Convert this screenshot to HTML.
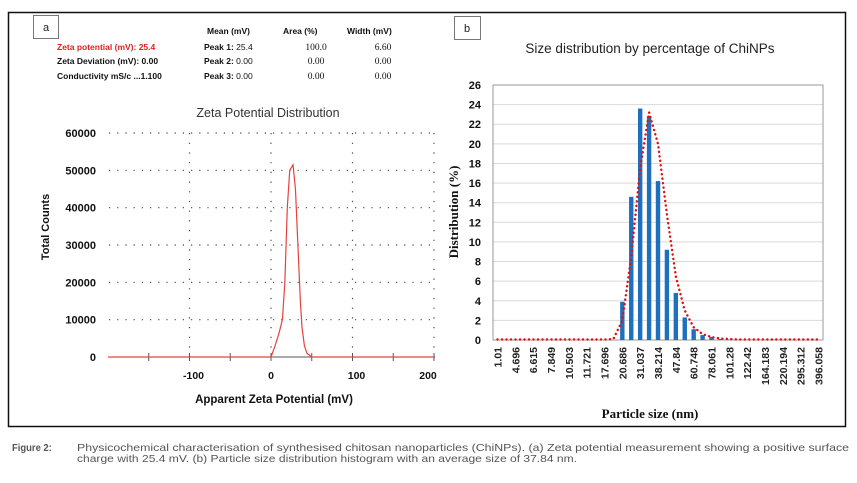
<!DOCTYPE html>
<html><head><meta charset="utf-8">
<style>
body{margin:0;background:#fff;}
svg{display:block;font-family:"Liberation Sans",sans-serif;}
</style></head>
<body>
<svg width="857" height="483" viewBox="0 0 857 483">
<rect x="8.5" y="12.5" width="837" height="414" fill="none" stroke="#111" stroke-width="1.5"/>
<g id="panelA">
<rect x="33.5" y="15.5" width="25" height="23" fill="#fff" stroke="#777"/>
<text x="46" y="31" font-size="11" text-anchor="middle" fill="#222">a</text>
<g font-size="8.5" font-weight="bold" fill="#111">
<text x="57" y="50" fill="#e02020">Zeta potential (mV): 25.4</text>
<text x="57" y="64">Zeta Deviation (mV): 0.00</text>
<text x="57" y="79">Conductivity mS/c ...1.100</text>
<text x="207" y="34">Mean (mV)</text>
<text x="283" y="34">Area (%)</text>
<text x="347" y="34">Width (mV)</text>
<text x="204" y="50">Peak 1: <tspan font-weight="normal">25.4</tspan></text>
<text x="204" y="64">Peak 2: <tspan font-weight="normal"> 0.00</tspan></text>
<text x="204" y="79">Peak 3: <tspan font-weight="normal"> 0.00</tspan></text>
<g font-weight="normal" text-anchor="middle" font-family="Liberation Serif,serif" font-size="9.5">
<text x="316" y="50">100.0</text><text x="316" y="64">0.00</text><text x="316" y="79">0.00</text>
<text x="383" y="50">6.60</text><text x="383" y="64">0.00</text><text x="383" y="79">0.00</text>
</g></g>
<text x="268" y="117" font-size="12.5" text-anchor="middle" fill="#333">Zeta Potential Distribution</text>
<g id="aGrid"></g>
<g id="aAxis"></g>
<text transform="translate(49,227) rotate(-90)" font-size="11" font-weight="bold" text-anchor="middle" fill="#111">Total Counts</text>
<text x="274" y="403" font-size="11.5" font-weight="bold" text-anchor="middle" fill="#111">Apparent Zeta Potential (mV)</text>
</g>
<g id="panelB">
<rect x="454.5" y="16.5" width="26" height="23" fill="#fff" stroke="#777"/>
<text x="467" y="32" font-size="11" text-anchor="middle" fill="#222">b</text>
<text x="650" y="53" font-size="13.5" text-anchor="middle" fill="#222">Size distribution by percentage  of ChiNPs</text>
<g id="bGrid"></g>
<g id="bBars"></g>
<g id="bCurve"></g>
<g id="bAxis"></g>
<text transform="translate(458,212) rotate(-90)" font-size="13" font-weight="bold" text-anchor="middle" font-family="Liberation Serif,serif" fill="#111">Distribution (%)</text>
<text x="650" y="418" font-size="13" font-weight="bold" text-anchor="middle" font-family="Liberation Serif,serif" fill="#111">Particle size (nm)</text>
</g>
<g font-size="10.5" fill="#555">
<text x="12" y="451" font-weight="bold" transform="translate(12,0) scale(0.9,1) translate(-12,0)">Figure 2:</text>
<text x="77" y="451" textLength="772" lengthAdjust="spacingAndGlyphs">Physicochemical characterisation of synthesised chitosan nanoparticles (ChiNPs). (a) Zeta potential measurement showing a positive surface</text>
<text x="77" y="462" textLength="500" lengthAdjust="spacingAndGlyphs">charge with 25.4 mV. (b) Particle size distribution histogram with an average size of 37.84 nm.</text>
</g>
</svg>
<script>
// ---- Panel A data ----
const zetaX = [-200, 0, 5, 10, 14, 17, 20, 23, 27, 30, 33, 36, 38, 41, 44, 50, 200];
const zetaCounts = [0, 0, 3000, 6500, 10000, 20000, 40000, 50000, 51500, 45000, 30000, 15000, 8000, 3000, 1000, 0, 0];
const zetaYTicks = [0, 10000, 20000, 30000, 40000, 50000, 60000];
const zetaXTickLabels = [-100, 0, 100, 200];
const zetaMinorTicks = [-150, -100, -50, 0, 50, 100, 150, 200];
// ---- Panel B data ----
const sizeLabels = ["1.01","4.696","6.615","7.849","10.503","11.721","17.696","20.686","31.037","38.214","47.84","60.748","78.061","101.28","122.42","164.183","220.194","295.312","396.058"];
const sizeBars = [0,0,0,0,0,0,0,0,0,0,0,0,0,0,3.9,14.6,23.6,22.8,16.2,9.2,4.8,2.3,1.1,0.5,0.3,0.1,0.05,0.03,0.02,0.02,0.02,0.02,0.02,0.01,0.01,0.01,0];
const sizeFit = [0.05,0.05,0.05,0.05,0.05,0.05,0.05,0.05,0.05,0.05,0.05,0.05,0.05,0.1,2.0,8.5,17.5,23.2,20.0,12.8,6.5,3.0,1.3,0.6,0.3,0.15,0.1,0.05,0.05,0.05,0.05,0.05,0.05,0.05,0.05,0.05,0.05];
const sizeYTicks = [0,2,4,6,8,10,12,14,16,18,20,22,24,26];

const NS = "http://www.w3.org/2000/svg";
function mk(parent, tag, attrs, text){const e=document.createElementNS(NS,tag);for(const k in attrs)e.setAttribute(k,attrs[k]);if(text!==undefined)e.textContent=text;parent.appendChild(e);return e;}

// Panel A axes
const ax = v => 271 + (v) * 0.815;
const ay = v => 357 - v * (224 / 60000);
const aGrid = document.getElementById('aGrid');
zetaYTicks.forEach(t=>{
  if(t>0){
    const l = mk(aGrid,'line',{x1:109,x2:435,y1:ay(t),y2:ay(t),stroke:'#444','stroke-width':1.2,'stroke-dasharray':'1.2 7'});
    
    
  }
  const tx = mk(aGrid,'text',{x:96,y:ay(t)+4,'font-size':11,'font-weight':'bold','text-anchor':'end',fill:'#111'},String(t));
  
  
});
[-100,0,100,200].forEach(v=>{
  const l = mk(aGrid,'line',{x1:ax(v),x2:ax(v),y1:ay(60000),y2:ay(0),stroke:'#444','stroke-width':1.2,'stroke-dasharray':'1.2 8.5'});
  
  
});
const aAxis = document.getElementById('aAxis');
const axl = mk(aAxis,'line',{x1:109,x2:435,y1:357,y2:357,stroke:'#555','stroke-width':1});


zetaMinorTicks.forEach(v=>{
  const l = mk(aAxis,'line',{x1:ax(v),x2:ax(v),y1:353,y2:361,stroke:'#555'});
  
  
});
zetaXTickLabels.forEach(v=>{
  const t = mk(aAxis,'text',{x:ax(v)+(v===200?-6:v===0?0:4),y:379,'font-size':10.5,'font-weight':'bold','text-anchor':'middle',fill:'#111'},String(v));
  
  
});
const zp = mk(aAxis,'polyline',{points:zetaX.map((x,i)=>ax(x)+','+ay(zetaCounts[i])).join(' '),fill:'none',stroke:'#e8413c','stroke-width':1.2});



// Panel B axes
const L=493, R=823, T=85, B=340, N=sizeBars.length, band=(R-L)/N;
const bx = i => L + band*(i+0.5);
const by = v => B - v*(B-T)/26;
const bGrid = document.getElementById('bGrid');
sizeYTicks.forEach(t=>{
  const l = mk(bGrid,'line',{x1:L,x2:R,y1:by(t),y2:by(t),stroke:t===0?'#999':'#d9d9d9','stroke-width':1});
  
  
  const tx = mk(bGrid,'text',{x:481,y:by(t)+4,'font-size':11,'font-weight':'bold','text-anchor':'end',fill:'#111'},String(t));
  
  
});
const fr = mk(bGrid,'rect',{x:L,y:T,width:R-L,height:B-T,fill:'none',stroke:'#999'});


const bBars = document.getElementById('bBars');
sizeBars.forEach((v,i)=>{
  if(v<=0) return;
  const r = mk(bBars,'rect',{x:bx(i)-2.2,y:by(v),width:4.4,height:B-by(v),fill:'#1f6fbf'});
  
  
});
const bCurve = document.getElementById('bCurve');
let d='';
sizeFit.forEach((v,i)=>{d += (i?' L':'M')+bx(i)+' '+by(v);});
const cp = mk(bCurve,'path',{d:d,fill:'none',stroke:'#e01010','stroke-width':2.4,'stroke-linecap':'round','stroke-dasharray':'0.1 4.4'});


const bAxis = document.getElementById('bAxis');
sizeLabels.forEach((s,k)=>{
  const x = bx(k*2);
  const t = mk(bAxis,'text',{transform:`translate(${x+4},347) rotate(-90)`,'font-size':10.5,'font-weight':'bold','text-anchor':'end',fill:'#222'},s);
  
  
});
</script>
</body></html>
